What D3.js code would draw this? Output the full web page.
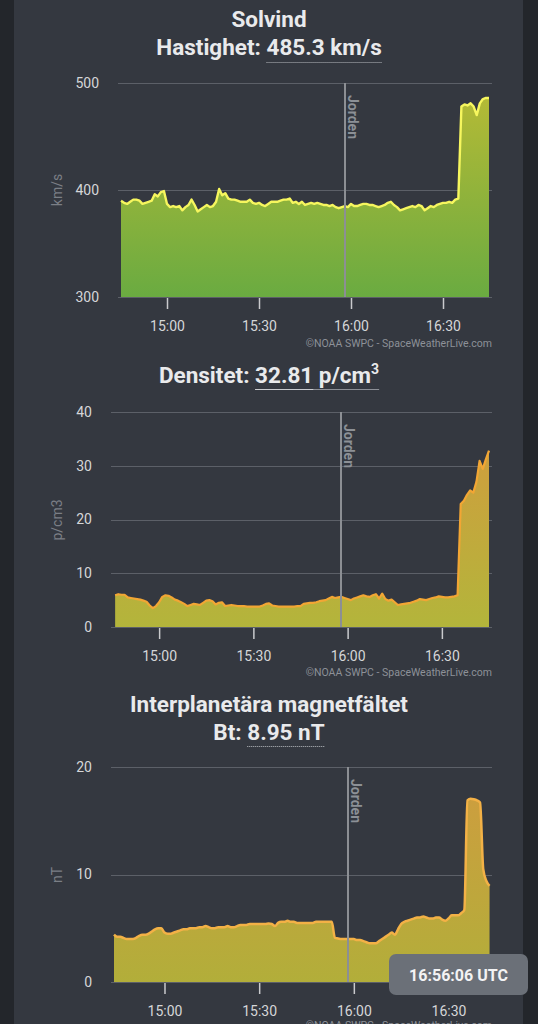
<!DOCTYPE html>
<html>
<head>
<meta charset="utf-8">
<script src="https://cdn.jsdelivr.net/npm/d3@7"></script>
<style>
html, body { margin: 0; padding: 0; background: #23262b; }
svg { display: block; font-family: Roboto, "Noto Sans", sans-serif; }
</style>
</head>
<body>
<svg id="chart" width="538" height="1024"></svg>
<script>
// solar wind speed, km/s, one value per minute from speedStart
const speedStart = "14:45";
const speedValues = [
  390, 388, 387, 389, 391, 391, 390, 387, 388, 389,
  390, 396, 394, 398, 399, 387, 384, 385, 384, 385,
  381, 384, 386, 391, 386, 380, 382, 384, 386, 384,
  385, 389, 401, 395, 397, 392, 391, 391, 390, 389,
  389, 389, 391, 388, 387, 388, 386, 385, 387, 389,
  389, 389, 390, 391, 391, 392, 388, 389, 387, 389,
  386, 387, 388, 387, 388, 387, 386, 386, 385, 386,
  384, 383, 384, 385, 384, 387, 385, 385, 386, 387,
  387, 386, 386, 385, 384, 385, 386, 388, 389, 386,
  384, 381, 382, 383, 384, 385, 384, 386, 385, 381,
  383, 385, 384, 386, 387, 388, 388, 389, 388, 391,
  392, 478, 480, 479, 481, 478, 470, 481, 485, 486,
  486
];

// density, p/cm3, one value per minute from densityStart
const densityStart = "14:46";
const densityValues = [
  5.9, 6.1, 6.0, 6.0, 5.5, 5.4, 5.3, 5.2, 5.1, 4.9,
  4.7, 4.0, 3.5, 3.9, 4.6, 5.6, 5.9, 5.8, 5.5, 5.1,
  4.9, 4.6, 4.3, 3.9, 4.1, 4.3, 4.2, 4.1, 4.5, 4.9,
  5.0, 4.8, 4.2, 4.5, 4.6, 3.9, 4.0, 4.1, 4.0, 3.9,
  3.9, 3.9, 3.8, 3.8, 3.8, 3.8, 3.8, 4.0, 4.3, 4.4,
  4.0, 3.9, 3.8, 3.8, 3.8, 3.8, 3.8, 3.8, 3.9, 3.9,
  4.3, 4.4, 4.5, 4.5, 4.6, 4.8, 4.9, 5.0, 5.3, 5.6,
  5.4, 5.5, 5.6, 5.4, 5.2, 5.0, 5.3, 5.5, 5.7, 5.9,
  5.7, 5.6, 5.9, 6.1, 5.3, 6.2, 5.2, 4.9, 5.1, 4.6,
  4.1, 4.2, 4.3, 4.4, 4.5, 4.7, 4.9, 5.2, 5.1, 5.0,
  5.2, 5.4, 5.5, 5.7, 5.6, 5.5, 5.5, 5.6, 5.7, 5.9,
  22.9, 23.5, 24.6, 25.4, 25.0, 27.0, 30.9, 29.4, 31.2, 32.8
];

// magnetic field Bt, nT, one value per minute from btStart
const btStart = "14:44";
const btValues = [
  4.4, 4.2, 4.2, 4.1, 4.0, 4.0, 4.0, 4.1, 4.3, 4.4,
  4.4, 4.5, 4.7, 4.9, 5.0, 5.0, 4.6, 4.5, 4.5, 4.6,
  4.7, 4.8, 4.9, 4.9, 5.0, 5.0, 5.0, 5.1, 5.1, 5.2,
  5.1, 5.0, 5.0, 5.1, 5.1, 5.1, 5.2, 5.1, 5.1, 5.2,
  5.3, 5.3, 5.3, 5.4, 5.4, 5.4, 5.4, 5.4, 5.4, 5.45,
  5.4, 5.2, 5.5, 5.6, 5.6, 5.7, 5.6, 5.6, 5.5, 5.5,
  5.5, 5.5, 5.5, 5.5, 5.6, 5.6, 5.6, 5.6, 5.6, 5.6,
  4.1, 4.05, 4.0, 4.0, 4.0, 4.0, 4.0, 3.9, 3.9, 3.8,
  3.7, 3.6, 3.6, 3.6, 3.8, 4.0, 4.2, 4.4, 4.6, 4.4,
  4.9, 5.4, 5.6, 5.7, 5.8, 5.9, 6.0, 6.0, 6.1, 6.0,
  5.9, 5.9, 6.0, 6.0, 5.8, 5.7, 5.9, 6.2, 6.2, 6.2,
  6.4, 6.7, 16.9, 17.05, 17.0, 16.9, 16.7, 10.5, 9.4, 8.95
];

const timeTicks = ["15:00", "15:30", "16:00", "16:30"];
const speedTicks = [300, 400, 500];
const densityTicks = [0, 10, 20, 30, 40];
const btTicks = [0, 10, 20];
const earthTime = "15:58";
const nowLabel = "16:56:06 UTC";
const creditText = "\u00A9NOAA SWPC - SpaceWeatherLive.com";

const parseTime = d3.utcParse("%H:%M");
function series(start, values) {
  var t0 = parseTime(start);
  return values.map(function(v, i) { return { t: d3.utcMinute.offset(t0, i), v: v }; });
}

const svg = d3.select("#chart");
const defs = svg.append("defs");

// card background
svg.append("rect")
  .attr("x", 14).attr("y", 0).attr("width", 509).attr("height", 1024)
  .attr("fill", "#343840");

/*
  Titles
*/
function title(yPos, text) {
  return svg.append("text")
    .attr("x", 269).attr("y", yPos)
    .attr("text-anchor", "middle")
    .attr("fill", "#e9eaec")
    .style("font-size", "22.5px")
    .style("font-weight", "bold")
    .text(text);
}
function valueTitle(yPos, label, value, sup, lineY, dotted) {
  var t = svg.append("text")
    .attr("x", 269).attr("y", yPos)
    .attr("text-anchor", "middle")
    .attr("fill", "#e9eaec")
    .style("font-size", "22.5px")
    .style("font-weight", "bold");
  t.append("tspan").text(label);
  t.append("tspan").text(value);
  if (sup) t.append("tspan").attr("dy", -9).style("font-size", "14px").text(sup);
  var node = t.node();
  var start = label.length;
  var n = value.length + (sup ? sup.length : 0);
  var a = node.getStartPositionOfChar(start).x;
  var b = node.getEndPositionOfChar(start + n - 1).x;
  svg.append("line")
    .attr("x1", a).attr("x2", b).attr("y1", lineY + .5).attr("y2", lineY + .5)
    .attr("stroke", dotted ? "#b9bcc1" : "#8d9097")
    .attr("stroke-width", 1)
    .attr("stroke-dasharray", dotted ? "1,1" : null);
  if (!dotted) {
    var c = node.getEndPositionOfChar(start + value.indexOf(" ") - 1).x;
    svg.append("line")
      .attr("x1", a).attr("x2", c).attr("y1", lineY + .5).attr("y2", lineY + .5)
      .attr("stroke", "#c9cbcf").attr("stroke-width", 1);
  }
}

title(27, "Solvind");
valueTitle(55, "Hastighet: ", "485.3 km/s", null, 62, true);
valueTitle(383, "Densitet: ", "32.81 p/cm", "3", 389, false);
title(712, "Interplanetära magnetfältet");
valueTitle(740, "Bt: ", "8.95 nT", null, 746, true);

/*
  Charts
*/
const panels = [
  { data: series(speedStart, speedValues), yTicks: speedTicks, yTitle: "km/s",
    xDomain: ["14:45", "16:45"], xRange: [121, 489], grid: [118, 492], yRange: [297, 83],
    line: "#f6f65e", fill: ["#6aab41", "#b9bb35"], curve: d3.curveLinear, width: 2.4,
    yTitleY: 190, creditY: 347 },
  { data: series(densityStart, densityValues), yTicks: densityTicks, yTitle: "p/cm3",
    xDomain: ["14:45", "16:45"], xRange: [112, 489], grid: [111, 492], yRange: [627, 412],
    line: "#f2a634", fill: ["#b3b53b", "#d49a3e"], curve: d3.curveLinear, width: 2.2,
    yTitleY: 520, creditY: 676 },
  { data: series(btStart, btValues), yTicks: btTicks, yTitle: "nT",
    xDomain: ["14:44", "16:44"], xRange: [114, 492.7], grid: [111, 492], yRange: [982, 767],
    line: "#f3b146", fill: ["#b2ae3a", "#d09c3f"], curve: d3.curveMonotoneX, width: 2.5,
    yTitleY: 875, creditY: 1029 }
];

panels.forEach(function(p, i) {
  var x = d3.scaleUtc().domain(p.xDomain.map(parseTime)).range(p.xRange);
  var y = d3.scaleLinear().domain(d3.extent(p.yTicks)).range(p.yRange);
  var g = svg.append("g");

  var gid = "fill" + i;
  var grad = defs.append("linearGradient").attr("id", gid)
    .attr("gradientUnits", "userSpaceOnUse")
    .attr("x1", 0).attr("x2", 0).attr("y1", p.yRange[0]).attr("y2", p.yRange[1]);
  grad.append("stop").attr("offset", 0).attr("stop-color", p.fill[0]);
  grad.append("stop").attr("offset", 1).attr("stop-color", p.fill[1]);

  // grid lines
  g.selectAll("line.grid")
    .data(p.yTicks)
    .enter().append("line")
    .attr("class", "grid")
    .attr("x1", p.grid[0]).attr("x2", p.grid[1])
    .attr("y1", function(d) { return Math.round(y(d)) + .5; })
    .attr("y2", function(d) { return Math.round(y(d)) + .5; })
    .attr("stroke", "#5c6068");

  // y labels
  g.append("g")
    .attr("transform", "translate(" + p.grid[0] + ",0)")
    .call(d3.axisLeft(y).tickValues(p.yTicks).tickSize(0).tickPadding(19))
    .call(function(a) { a.select(".domain").remove(); })
    .selectAll("text")
      .attr("fill", "#d5d6d8")
      .style("font-family", "Roboto")
      .style("font-size", "14px");

  g.append("text")
    .attr("transform", "translate(62," + p.yTitleY + ")rotate(-90)")
    .attr("text-anchor", "middle")
    .attr("fill", "#7b7f86")
    .style("font-size", "14px")
    .text(p.yTitle);

  // area + line
  var area = d3.area()
    .x(function(d) { return x(d.t); })
    .y0(y(p.yTicks[0]))
    .y1(function(d) { return y(d.v); })
    .curve(p.curve);
  var line = d3.line()
    .x(function(d) { return x(d.t); })
    .y(function(d) { return y(d.v); })
    .curve(p.curve);

  g.append("path").datum(p.data)
    .attr("d", area)
    .attr("fill", "url(#" + gid + ")");
  g.append("path").datum(p.data)
    .attr("d", line)
    .attr("fill", "none")
    .attr("stroke", p.line)
    .attr("stroke-width", p.width)
    .attr("stroke-linejoin", "round");

  // earth marker
  var ex = Math.round(x(parseTime(earthTime)));
  g.append("line")
    .attr("x1", ex).attr("x2", ex)
    .attr("y1", p.yRange[1]).attr("y2", p.yRange[0])
    .attr("stroke", "#8c8f94").attr("stroke-width", 2);
  g.append("text")
    .attr("transform", "translate(" + (ex + 3) + "," + (p.yRange[1] + 12) + ")rotate(90)")
    .attr("fill", "#8c9096")
    .style("font-size", "14px")
    .style("font-weight", "bold")
    .text("Jorden");

  // x axis
  g.append("g")
    .attr("transform", "translate(0," + (p.yRange[0] + 1) + ")")
    .call(d3.axisBottom(x)
      .tickValues(timeTicks.map(parseTime))
      .tickFormat(d3.utcFormat("%H:%M"))
      .tickSize(11).tickPadding(12))
    .call(function(a) {
      a.select(".domain").remove();
      a.selectAll(".tick line").attr("stroke", "#c9cacd").attr("stroke-width", 1.5);
      a.selectAll(".tick text")
        .attr("fill", "#d5d6d8")
        .style("font-family", "Roboto")
        .style("font-size", "14px");
    });

  g.append("text")
    .attr("x", 492).attr("y", p.creditY)
    .attr("text-anchor", "end")
    .attr("fill", "#8d9198")
    .style("font-size", "10.5px")
    .text(creditText);
});

// time badge
const badge = svg.append("g").attr("transform", "translate(389,954)");
badge.append("rect")
  .attr("width", 139).attr("height", 41).attr("rx", 7)
  .attr("fill", "#6b7078");
badge.append("text")
  .attr("x", 69.5).attr("y", 26.5)
  .attr("text-anchor", "middle")
  .attr("fill", "#f3f3f4")
  .style("font-size", "16px")
  .style("font-weight", "bold")
  .text(nowLabel);
</script>
</body>
</html>
